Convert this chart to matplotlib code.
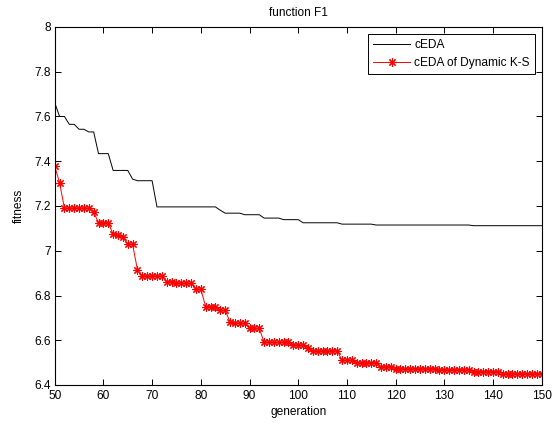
import matplotlib
matplotlib.use("Agg")
import matplotlib.pyplot as plt
import numpy as np

generations = list(range(50, 151))

ceda = [7.662, 7.600, 7.600, 7.565, 7.565, 7.543, 7.543, 7.531, 7.531, 7.434,
        7.434, 7.434, 7.359, 7.359, 7.359, 7.359, 7.320, 7.313, 7.313, 7.313,
        7.313,
        7.196, 7.196, 7.196, 7.196, 7.196, 7.196, 7.196, 7.196, 7.196, 7.196,
        7.196, 7.196, 7.196,
        7.181,
        7.168, 7.168, 7.168, 7.168,
        7.161, 7.161, 7.161, 7.161,
        7.146, 7.146, 7.146, 7.146,
        7.139, 7.139, 7.139, 7.139,
        7.125, 7.125, 7.125, 7.125, 7.125, 7.125, 7.125, 7.125,
        7.119, 7.119, 7.119, 7.119, 7.119, 7.119, 7.119,
        7.115, 7.115, 7.115, 7.115, 7.115, 7.115, 7.115, 7.115, 7.115, 7.115,
        7.115, 7.115, 7.115, 7.115, 7.115, 7.115, 7.115, 7.115, 7.115, 7.115,
        7.112, 7.112, 7.112, 7.112, 7.112, 7.112, 7.112, 7.112, 7.112, 7.112,
        7.112, 7.112, 7.112, 7.112, 7.112]

ceda_ks = [7.378, 7.304,
           7.190, 7.190, 7.190, 7.190, 7.190, 7.190,
           7.172,
           7.125, 7.125, 7.125,
           7.074, 7.070, 7.060,
           7.028, 7.028,
           6.914,
           6.887, 6.887, 6.887, 6.887, 6.887,
           6.862, 6.862, 6.858, 6.855, 6.855, 6.855,
           6.828, 6.828,
           6.750, 6.750, 6.750,
           6.733, 6.733,
           6.683, 6.676, 6.676, 6.676,
           6.653, 6.653, 6.653,
           6.591, 6.591, 6.591, 6.591, 6.591, 6.591,
           6.579, 6.579, 6.579,
           6.567,
           6.553, 6.553, 6.553, 6.553, 6.553, 6.553,
           6.510, 6.510, 6.510,
           6.500, 6.500, 6.500, 6.500, 6.500,
           6.482, 6.482, 6.482,
           6.473, 6.473, 6.473, 6.473, 6.473, 6.473, 6.473, 6.473, 6.473,
           6.469, 6.469, 6.469, 6.469, 6.469, 6.469, 6.469,
           6.460, 6.460, 6.460, 6.460, 6.460, 6.460,
           6.451, 6.451, 6.451, 6.451, 6.451, 6.451, 6.451, 6.451, 6.451]

xticks = [50, 60, 70, 80, 90, 100, 110, 120, 130, 140, 150]
yticks = [6.4, 6.6, 6.8, 7.0, 7.2, 7.4, 7.6, 7.8, 8.0]
ytick_labels = ["6.4", "6.6", "6.8", "7", "7.2", "7.4", "7.6", "7.8", "8"]

plt.rcParams['font.family'] = ['Liberation Sans', 'DejaVu Sans']
FS = 8.6

fig = plt.figure(figsize=(5.52, 4.23), dpi=100)
ax = fig.add_axes([54.7/552, 38/423, (541.7-54.7)/552, (385-27)/423])

ax.plot(generations, ceda, color='black', linewidth=0.7, label='cEDA')
ax.plot(generations, ceda_ks, color='red', linewidth=0.7, marker=(8, 2, 0),
        markersize=6, markeredgewidth=0.8, label='cEDA of Dynamic K-S')

ax.set_xlim(50, 150)
ax.set_ylim(6.4, 8.0)
ax.set_xticks(xticks)
ax.set_yticks(yticks)
ax.set_yticklabels(ytick_labels)
ax.tick_params(direction='in', length=4, width=0.7, labelsize=FS,
               top=True, right=True)
ax.tick_params(axis='x', pad=3.5)
ax.tick_params(axis='y', pad=2.5)
for s in ax.spines.values():
    s.set_linewidth(0.8)

ax.set_title('function F1', fontsize=FS, pad=8)
ax.set_xlabel('generation', fontsize=FS, labelpad=3)
ax.set_ylabel('fitness', fontsize=FS, labelpad=7)

leg = ax.legend(loc='upper right', fontsize=FS, frameon=True, fancybox=False,
                edgecolor='black', framealpha=1, borderaxespad=0.55,
                handlelength=3.1, handletextpad=0.35, borderpad=0.45,
                labelspacing=0.5)
leg.get_frame().set_linewidth(0.7)

fig.savefig('out.png', dpi=100)
